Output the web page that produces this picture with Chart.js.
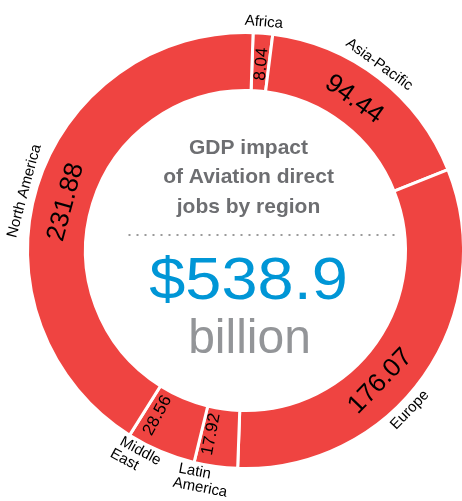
<!DOCTYPE html>
<html>
<head>
<meta charset="utf-8">
<script src="https://cdn.jsdelivr.net/npm/chart.js@4.4.1/dist/chart.umd.min.js"></script>
<style>
  html, body { margin: 0; padding: 0; background: #fff; overflow: hidden; }
  #wrap { position: relative; width: 491px; height: 501px; }
</style>
</head>
<body>
<div id="wrap"><canvas id="myChart"></canvas></div>
<script>
// --- Data ---
const regions = [['Africa'], ['Asia-Pacific'], ['Europe'], ['Latin', 'America'], ['Middle', 'East'], ['North America']];
const gdpValues = [8.04, 94.44, 176.07, 17.92, 28.56, 231.88];
const valueLabels = ['8.04', '94.44', '176.07', '17.92', '28.56', '231.88'];
const titleLines = ['GDP impact', 'of Aviation direct', 'jobs by region'];
const totalText = '$538.9';
const unitText = 'billion';

const RED = '#ef4441';
const FONT = '"Liberation Sans", Arial, Helvetica, sans-serif';

// keep text readable: angle in (-90, 90]
function readable(rot) {
  while (rot > Math.PI / 2) rot -= Math.PI;
  while (rot <= -Math.PI / 2) rot += Math.PI;
  return rot;
}

// --- Plugin: value labels inside arcs + region names outside ---
const ringLabels = {
  id: 'ringLabels',
  afterDatasetsDraw(chart, args, opts) {
    const ctx = chart.ctx;
    const meta = chart.getDatasetMeta(0);
    meta.data.forEach((arc, i) => {
      const p = arc.getProps(['x', 'y', 'startAngle', 'endAngle', 'innerRadius', 'outerRadius']);
      const span = p.endAngle - p.startAngle;
      // small nudge so labels sit where the original put them
      const mid = (p.startAngle + p.endAngle) / 2 + (opts.nudge[i] || 0) * Math.PI / 180;
      const rMid = (p.innerRadius + p.outerRadius) / 2 - 2;
      const small = span < 0.4;

      // value inside the ring
      ctx.save();
      ctx.translate(p.x + Math.cos(mid) * rMid, p.y + Math.sin(mid) * rMid);
      ctx.rotate(readable(small ? mid : mid + Math.PI / 2));
      ctx.fillStyle = '#000';
      ctx.textAlign = 'center';
      ctx.textBaseline = 'middle';
      ctx.font = (small ? '17px ' : '26px ') + FONT;
      ctx.fillText(valueLabels[i], 0, 1);
      ctx.restore();

      // region name outside the ring
      const lines = regions[i];
      const rOut = p.outerRadius + (lines.length > 1 ? 16 : 11);
      ctx.save();
      ctx.translate(p.x + Math.cos(mid) * rOut, p.y + Math.sin(mid) * rOut);
      ctx.rotate(readable(mid + Math.PI / 2));
      ctx.fillStyle = '#000';
      ctx.textBaseline = 'middle';
      ctx.font = '15px ' + FONT;
      const lh = 15;
      const w = Math.max(...lines.map(t => ctx.measureText(t).width));
      ctx.textAlign = lines.length > 1 ? 'left' : 'center';
      lines.forEach((t, k) => {
        const x0 = lines.length > 1 ? -w / 2 + (k === 0 ? 3 : 0) : 0;
        ctx.fillText(t, x0, (k - (lines.length - 1) / 2) * lh);
      });
      ctx.restore();
    });

    // centre text
    const c = meta.data[0];
    const cx = c.x + 3;
    const cy = c.y;
    ctx.save();
    ctx.textAlign = 'center';
    ctx.textBaseline = 'alphabetic';
    ctx.fillStyle = '#6d6e71';
    ctx.font = 'bold 21px ' + FONT;
    titleLines.forEach((t, k) => ctx.fillText(t, cx, cy - 97 + k * 29.5));

    // dotted rule
    ctx.strokeStyle = '#9a9a9a';
    ctx.lineWidth = 2;
    ctx.setLineDash([2, 6]);
    ctx.beginPath();
    ctx.moveTo(cx - 120, cy - 15.5);
    ctx.lineTo(cx + 150, cy - 15.5);
    ctx.stroke();
    ctx.setLineDash([]);

    ctx.fillStyle = '#0096d6';
    ctx.font = '59px ' + FONT;
    ctx.save();
    ctx.translate(cx, cy + 48);
    ctx.scale(1.1, 1);
    ctx.fillText(totalText, 0, 0);
    ctx.restore();

    ctx.fillStyle = '#939598';
    ctx.font = '48px ' + FONT;
    ctx.fillText(unitText, cx + 1, cy + 102);
    ctx.restore();
  }
};

const canvas = document.getElementById('myChart');
const chart = new Chart(canvas.getContext('2d'), {
  type: 'doughnut',
  data: {
    labels: regions.map(r => r.join(' ')),
    datasets: [{
      data: gdpValues,
      backgroundColor: RED,
      borderColor: '#ffffff',
      borderWidth: 3,
      hoverOffset: 0
    }]
  },
  options: {
    responsive: true,
    maintainAspectRatio: false,
    animation: false,
    cutout: 160,
    rotation: 2,
    layout: { padding: { left: 26, right: 26, top: 31, bottom: 31 } },
    plugins: {
      legend: { display: false },
      tooltip: { enabled: false },
      ringLabels: { nudge: [0, -2, 9, 3, 5.5, -2] }
    }
  },
  plugins: [ringLabels]
});
</script>
</body>
</html>
